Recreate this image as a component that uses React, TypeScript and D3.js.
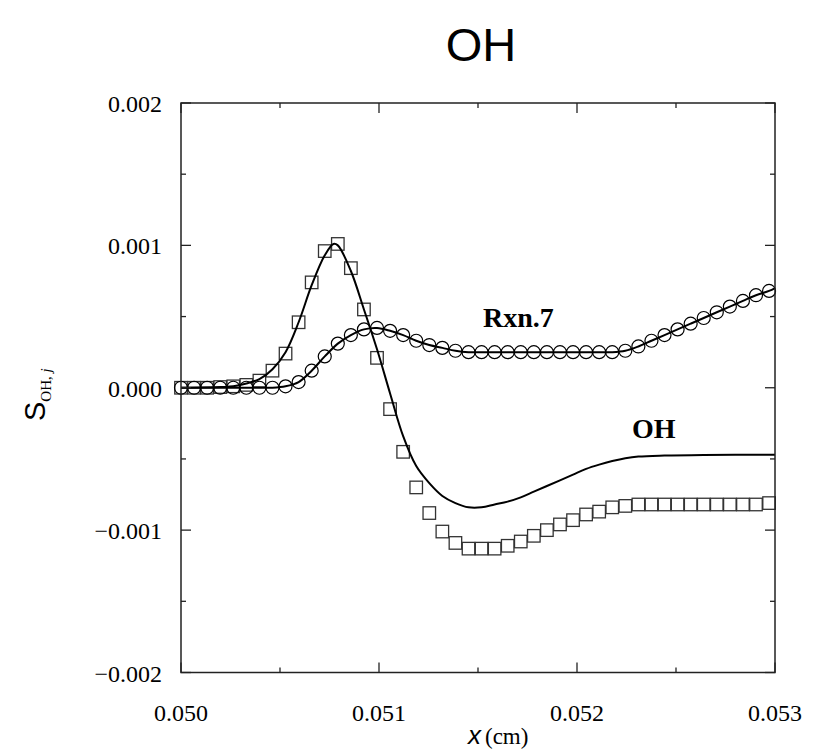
import React from 'react';
import * as d3 from 'd3';

const markerX = [
  0.05, 0.050066, 0.050132, 0.050198, 0.050264, 0.05033, 0.050396, 0.050462, 0.050528, 0.050594,
  0.05066, 0.050726, 0.050792, 0.050858, 0.050924, 0.05099, 0.051056, 0.051122, 0.051188, 0.051254,
  0.05132, 0.051386, 0.051452, 0.051518, 0.051584, 0.05165, 0.051716, 0.051782, 0.051848, 0.051914,
  0.05198, 0.052046, 0.052112, 0.052178, 0.052244, 0.05231, 0.052376, 0.052442, 0.052508, 0.052574,
  0.05264, 0.052706, 0.052772, 0.052838, 0.052904, 0.05297,
];

const rxn7Values = [
  0, 0, 0, 0, 0, 0, 0, 0, 0.00001, 0.00004,
  0.00012, 0.00022, 0.00031, 0.00037, 0.00041, 0.00042, 0.0004, 0.00037, 0.00033, 0.0003,
  0.00028, 0.00026, 0.00025, 0.00025, 0.00025, 0.00025, 0.00025, 0.00025, 0.00025, 0.00025,
  0.00025, 0.00025, 0.00025, 0.00025, 0.00026, 0.00029, 0.00033, 0.00037, 0.00041, 0.00045,
  0.00049, 0.00053, 0.00057, 0.00061, 0.00065, 0.00068,
];

const ohMarkerValues = [
  0, 0, 0, 0.000005, 0.00001, 0.00002, 0.00005, 0.00012, 0.00024, 0.00046,
  0.00074, 0.00096, 0.00101, 0.00084, 0.00055, 0.00021, -0.00015, -0.00045, -0.0007, -0.00088,
  -0.00101, -0.00109, -0.00113, -0.00113, -0.00113, -0.00111, -0.00108, -0.00104, -0.001, -0.00096,
  -0.00093, -0.00089, -0.00087, -0.00084, -0.00083, -0.00082, -0.00082, -0.00082, -0.00082, -0.00082,
  -0.00082, -0.00082, -0.00082, -0.00082, -0.00082, -0.00081,
];

const rxn7LineEndX = 0.053;
const rxn7LineEndValue = 0.0007;

const ohLineX = [
  0.05, 0.0502, 0.050264, 0.05033, 0.050396, 0.050462, 0.050528, 0.050594, 0.05066, 0.050726,
  0.05077, 0.050792, 0.050858, 0.050924, 0.05099, 0.051056, 0.051122, 0.051188, 0.051254, 0.05132,
  0.051386, 0.051452, 0.051518, 0.051584, 0.05165, 0.051716, 0.051782, 0.051848, 0.051914, 0.05198,
  0.052046, 0.052112, 0.052178, 0.052244, 0.05231, 0.052442, 0.05264, 0.053,
];
const ohLineValues = [
  0, 0.000005, 0.00001, 0.00003, 0.00006, 0.00013, 0.00025, 0.00046, 0.00072, 0.00093,
  0.00101, 0.001, 0.00082, 0.00055, 0.00027, -0.00004, -0.00034, -0.00055, -0.00067, -0.00076,
  -0.00081, -0.00084, -0.00084, -0.00082, -0.0008, -0.00077, -0.00073, -0.00069, -0.00065, -0.00061,
  -0.00057, -0.00054, -0.000515, -0.000495, -0.000483, -0.000476, -0.000472, -0.00047,
];

const xTicks = [0.05, 0.051, 0.052, 0.053];
const xTickLabels = ['0.050', '0.051', '0.052', '0.053'];
const xMinorTicks = [0.0505, 0.0515, 0.0525];
const yTicks = [-0.002, -0.001, 0, 0.001, 0.002];
const yTickLabels = ['\u22120.002', '\u22120.001', '0.000', '0.001', '0.002'];
const yMinorTicks = [-0.0015, -0.0005, 0.0005, 0.0015];

const W = 814;
const H = 752;
const L = 181, R = 775, T = 103, B = 672.5;

export default function App() {
  const x = d3.scaleLinear().domain([0.05, 0.053]).range([L, R]);
  const y = d3.scaleLinear().domain([-0.002, 0.002]).range([B, T]);

  const line = d3
    .line<[number, number]>()
    .x((d) => x(d[0]))
    .y((d) => y(d[1]))
    .curve(d3.curveCatmullRom.alpha(0.5));

  const rxnPts: [number, number][] = markerX.map((v, i) => [v, rxn7Values[i]] as [number, number]);
  rxnPts.push([rxn7LineEndX, rxn7LineEndValue]);
  const ohPts: [number, number][] = ohLineX.map((v, i) => [v, ohLineValues[i]] as [number, number]);

  const serif = '"Liberation Serif", "Times New Roman", serif';
  const sans = '"Liberation Sans", Arial, Helvetica, sans-serif';
  const axisColor = '#222';
  const major = 10;
  const minor = 5;
  const sq = 12.5;

  return (
    <svg width={W} height={H} style={{ position: 'absolute', left: 0, top: 0, background: '#fff' }}>
      <rect x={0} y={0} width={W} height={H} fill="#fff" />
      <text x={481} y={61} textAnchor="middle" fontFamily={sans} fontSize={47} fill="#000">
        OH
      </text>

      {/* markers */}
      <g fill="none" stroke="#333" strokeWidth={1.3}>
        {markerX.map((v, i) => (
          <rect key={'s' + i} x={x(v) - sq / 2} y={y(ohMarkerValues[i]) - sq / 2} width={sq} height={sq} />
        ))}
      </g>
      <g fill="none" stroke="#000" strokeWidth={1.2}>
        {markerX.map((v, i) => (
          <circle key={'c' + i} cx={x(v)} cy={y(rxn7Values[i])} r={6.5} />
        ))}
      </g>

      <path d={line(rxnPts) || ''} fill="none" stroke="#000" strokeWidth={2} />
      <path d={line(ohPts) || ''} fill="none" stroke="#000" strokeWidth={2} />

      {/* frame */}
      <rect x={L} y={T} width={R - L} height={B - T} fill="none" stroke={axisColor} strokeWidth={1.5} />
      <g stroke={axisColor} strokeWidth={1.3}>
        {xTicks.map((t) => (
          <g key={'xt' + t}>
            <line x1={x(t)} x2={x(t)} y1={B} y2={B - major} />
            <line x1={x(t)} x2={x(t)} y1={T} y2={T + major} />
          </g>
        ))}
        {xMinorTicks.map((t) => (
          <g key={'xm' + t}>
            <line x1={x(t)} x2={x(t)} y1={B} y2={B - minor} />
            <line x1={x(t)} x2={x(t)} y1={T} y2={T + minor} />
          </g>
        ))}
        {yTicks.map((t) => (
          <g key={'yt' + t}>
            <line x1={L} x2={L + major} y1={y(t)} y2={y(t)} />
            <line x1={R} x2={R - major} y1={y(t)} y2={y(t)} />
          </g>
        ))}
        {yMinorTicks.map((t) => (
          <g key={'ym' + t}>
            <line x1={L} x2={L + minor} y1={y(t)} y2={y(t)} />
            <line x1={R} x2={R - minor} y1={y(t)} y2={y(t)} />
          </g>
        ))}
      </g>

      <g fontFamily={serif} fontSize={24} fill="#000">
        {xTicks.map((t, i) => (
          <text key={'xl' + t} x={x(t)} y={B + 48} textAnchor="middle">
            {xTickLabels[i]}
          </text>
        ))}
        {yTicks.map((t, i) => (
          <text key={'yl' + t} x={162} y={y(t) + 9} textAnchor="end">
            {yTickLabels[i]}
          </text>
        ))}
      </g>

      {/* annotations */}
      <text x={483} y={327} fontFamily={serif} fontWeight="bold" fontSize={28} fill="#000">
        Rxn.7
      </text>
      <text x={632} y={438} fontFamily={serif} fontWeight="bold" fontSize={28} fill="#000">
        OH
      </text>

      {/* x label */}
      <text x={468} y={744} fill="#000">
        <tspan fontFamily={sans} fontStyle="italic" fontSize={26}>x</tspan>
        <tspan fontFamily={serif} fontSize={23} dx={4}>(cm)</tspan>
      </text>

      {/* y label */}
      <text transform="translate(45, 421) rotate(-90)" fill="#000">
        <tspan fontFamily={sans} fontSize={29}>S</tspan>
        <tspan fontFamily={serif} fontSize={15} dy={6}>OH, </tspan>
        <tspan fontFamily={serif} fontSize={15} fontStyle="italic">j</tspan>
      </text>
    </svg>
  );
}
